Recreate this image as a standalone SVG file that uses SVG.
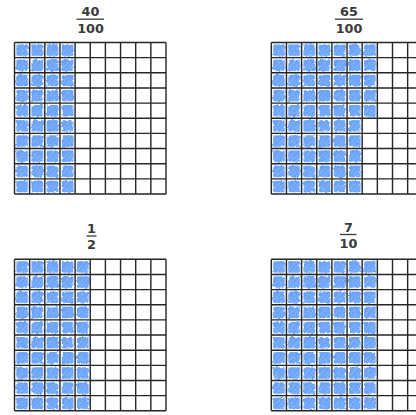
<svg xmlns="http://www.w3.org/2000/svg" width="416" height="415" viewBox="0 0 416 415">
<style>
.lbl{font-family:"DejaVu Sans","Liberation Sans",sans-serif;font-weight:bold;font-size:12.8px;fill:#3a3a3a;text-anchor:middle}
.bar{stroke:#3a3a3a;stroke-width:1.3}
.gl{fill:none;stroke:#262626;stroke-width:1.4}
.shade{filter:url(#rough)}
</style>
<defs>
<filter id="rough" x="-10%" y="-10%" width="120%" height="120%">
<feTurbulence type="fractalNoise" baseFrequency="0.3" numOctaves="2" seed="5" result="n"/>
<feDisplacementMap in="SourceGraphic" in2="n" scale="3.5" xChannelSelector="R" yChannelSelector="G"/>
</filter>
<pattern id="cells" patternUnits="userSpaceOnUse" width="15.15" height="15.15">
<rect x="1.8" y="1.8" width="11.8" height="11.8" rx="2" fill="#6aa3f8"/>
<path d="M2.8 10.5 L8.5 4 M5 13 L12.5 5 M8.5 13.3 L13 8.5" stroke="#97c2fb" stroke-width="0.9" fill="none"/>
</pattern>
<path id="grid" class="gl" d="M0 0H151.5M0 15.15H151.5M0 30.3H151.5M0 45.45H151.5M0 60.6H151.5M0 75.75H151.5M0 90.9H151.5M0 106.05H151.5M0 121.2H151.5M0 136.35H151.5M0 151.5H151.5M0 0V151.5M15.15 0V151.5M30.3 0V151.5M45.45 0V151.5M60.6 0V151.5M75.75 0V151.5M90.9 0V151.5M106.05 0V151.5M121.2 0V151.5M136.35 0V151.5M151.5 0V151.5"/>
</defs>
<rect width="416" height="415" fill="#ffffff"/>

<g id="grid-40-100">
<text class="lbl" x="90.5" y="15.7">40</text>
<line class="bar" x1="76.5" y1="19.2" x2="104" y2="19.2"/>
<text class="lbl" x="90.5" y="33.3">100</text>
<g transform="translate(14.5,42.5)">
<rect class="shade" x="0" y="0" width="60.6" height="151.5" fill="url(#cells)"/>
<use href="#grid"/>
</g>
</g>

<g id="grid-65-100">
<text class="lbl" x="349" y="15.7">65</text>
<line class="bar" x1="335" y1="19.2" x2="363" y2="19.2"/>
<text class="lbl" x="349" y="33.3">100</text>
<g transform="translate(271.3,42.5)">
<g class="shade">
<rect x="0" y="0" width="90.9" height="151.5" fill="url(#cells)"/>
<rect x="90.9" y="0" width="15.15" height="75.75" fill="url(#cells)"/>
</g>
<use href="#grid"/>
</g>
</g>

<g id="grid-1-2">
<text class="lbl" x="91.5" y="233">1</text>
<line class="bar" x1="86.5" y1="236" x2="96.5" y2="236"/>
<text class="lbl" x="91.5" y="249.3">2</text>
<g transform="translate(14.5,259.3)">
<rect class="shade" x="0" y="0" width="75.75" height="151.5" fill="url(#cells)"/>
<use href="#grid"/>
</g>
</g>

<g id="grid-7-10">
<text class="lbl" x="348.5" y="231.7">7</text>
<line class="bar" x1="340" y1="234.5" x2="356.5" y2="234.5"/>
<text class="lbl" x="348.5" y="248.3">10</text>
<g transform="translate(271.3,259.3)">
<rect class="shade" x="0" y="0" width="106.05" height="151.5" fill="url(#cells)"/>
<use href="#grid"/>
</g>
</g>

<g id="connectors"/>
</svg>
